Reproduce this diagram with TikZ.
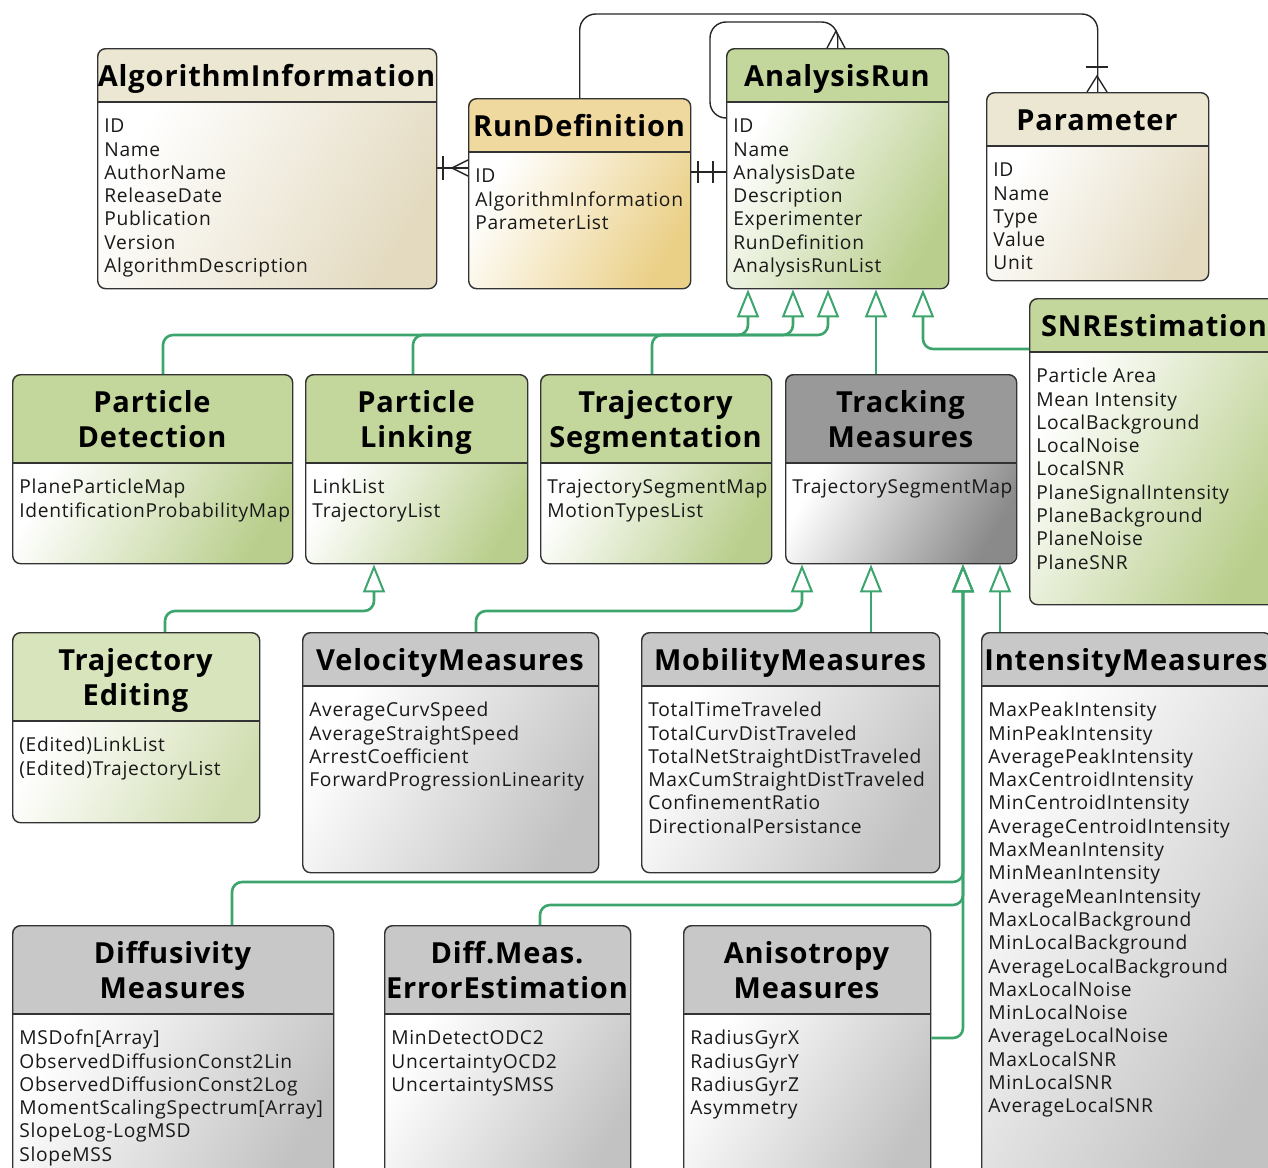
\documentclass[tikz,border=0pt]{standalone}
\usepackage{fontspec}
\setmainfont{Open Sans}
\usetikzlibrary{arrows.meta}

\definecolor{beigeT}{HTML}{ECE7D3}
\definecolor{beigeB}{HTML}{E3DAC0}
\definecolor{goldT}{HTML}{EFD99E}
\definecolor{goldB}{HTML}{EACF86}
\definecolor{greenT}{HTML}{C3D69B}
\definecolor{greenB}{HTML}{B9CE8C}
\definecolor{lgreenT}{HTML}{D8E4BC}
\definecolor{lgreenB}{HTML}{D0DDB0}
\definecolor{dgrayT}{HTML}{999999}
\definecolor{dgrayB}{HTML}{8A8A8A}
\definecolor{grayT}{HTML}{C8C8C8}
\definecolor{grayB}{HTML}{C2C2C2}
\definecolor{inhgreen}{RGB}{60,165,110}

% name, x, y, width, height, title band, colour, title, items
\newcommand{\umlclass}[9]{%
  \begin{scope}
    \clip[rounded corners=4pt] (#2,#3) rectangle ++(#4,#5);
    \fill[#7T] (#2,#3) rectangle ++(#4,#6);
    \shade[left color=white, right color=#7B, shading angle=60] (#2,#3+#6) rectangle ++(#4,#5-#6);
  \end{scope}
  \draw[black!80, line width=0.7pt] (#2,#3+#6) -- ++(#4,0);
  \node[clsbox, minimum width=#4*0.5pt, minimum height=#5*0.5pt] (#1) at (#2,#3) {};
  \node[clstitle] at (#2+#4/2,#3+13.5) {\strut #8};
  \node[clsitems] at (#2+7,#3+#6+14) {\strut #9};
}

\begin{document}
\begin{tikzpicture}[x=0.5pt, y=-0.5pt,
  clsbox/.style = {draw=black!80, line width=0.7pt, rounded corners=4pt, inner sep=0pt, anchor=north west},
  clstitle/.style = {font=\fontsize{14.5}{17.5}\selectfont\bfseries\addfontfeature{LetterSpace=3}, align=center, inner sep=0pt, anchor=north},
  clsitems/.style = {font=\fontsize{9.6}{11.65}\selectfont\addfontfeature{LetterSpace=3.5}, align=left, inner sep=0pt, anchor=north west, text=black!90},
  rel/.style = {draw=black!85, line width=0.7pt},
  inh/.style = {draw=inhgreen, line width=1.3pt, rounded corners=5pt, -{Triangle[open, length=14pt, width=11pt, line width=1pt]}}]
\useasboundingbox (0,0) rectangle (1268,1167);
\clip (0,0) rectangle (1268,1167);
\fill[white] (0,0) rectangle (1268,1167);

\umlclass{ai}{97}{48}{339}{240}{54}{beige}{AlgorithmInformation}{ID\\Name\\AuthorName\\ReleaseDate\\Publication\\Version\\AlgorithmDescription}
\umlclass{rd}{468}{98}{222}{190}{54}{gold}{RunDefinition}{ID\\AlgorithmInformation\\ParameterList}
\umlclass{ar}{726}{48}{222}{240}{54}{green}{AnalysisRun}{ID\\Name\\AnalysisDate\\Description\\Experimenter\\RunDefinition\\AnalysisRunList}
\umlclass{par}{986}{92}{222}{188}{54}{beige}{Parameter}{ID\\Name\\Type\\Value\\Unit}
\umlclass{snr}{1029}{298}{250}{306}{54}{green}{SNREstimation}{Particle Area\\Mean Intensity\\LocalBackground\\LocalNoise\\LocalSNR\\PlaneSignalIntensity\\PlaneBackground\\PlaneNoise\\PlaneSNR}
\umlclass{pd}{12}{374}{280}{189}{89}{green}{Particle\\Detection}{PlaneParticleMap\\IdentificationProbabilityMap}
\umlclass{pl}{305}{374}{222}{189}{89}{green}{Particle\\Linking}{LinkList\\TrajectoryList}
\umlclass{ts}{540}{374}{231}{189}{89}{green}{Trajectory\\Segmentation}{TrajectorySegmentMap\\MotionTypesList}
\umlclass{tm}{785}{374}{231}{189}{89}{dgray}{Tracking\\Measures}{TrajectorySegmentMap}
\umlclass{te}{12}{632}{247}{190}{89}{lgreen}{Trajectory\\Editing}{(Edited)LinkList\\(Edited)TrajectoryList}
\umlclass{vm}{302}{632}{296}{240}{54}{gray}{VelocityMeasures}{AverageCurvSpeed\\AverageStraightSpeed\\ArrestCoefficient\\ForwardProgressionLinearity}
\umlclass{mm}{641}{632}{298}{240}{54}{gray}{MobilityMeasures}{TotalTimeTraveled\\TotalCurvDistTraveled\\TotalNetStraightDistTraveled\\MaxCumStraightDistTraveled\\ConfinementRatio\\DirectionalPersistance}
\umlclass{im}{981}{632}{290}{560}{54}{gray}{IntensityMeasures}{MaxPeakIntensity\\MinPeakIntensity\\AveragePeakIntensity\\MaxCentroidIntensity\\MinCentroidIntensity\\AverageCentroidIntensity\\MaxMeanIntensity\\MinMeanIntensity\\AverageMeanIntensity\\MaxLocalBackground\\MinLocalBackground\\AverageLocalBackground\\MaxLocalNoise\\MinLocalNoise\\AverageLocalNoise\\MaxLocalSNR\\MinLocalSNR\\AverageLocalSNR}
\umlclass{dm}{12}{925}{321}{260}{89}{gray}{Diffusivity\\Measures}{MSDofn[Array]\\ObservedDiffusionConst2Lin\\ObservedDiffusionConst2Log\\MomentScalingSpectrum[Array]\\SlopeLog-LogMSD\\SlopeMSS}
\umlclass{ee}{384}{925}{246}{260}{89}{gray}{Diff.Meas.\\ErrorEstimation}{MinDetectODC2\\UncertaintyOCD2\\UncertaintySMSS}
\umlclass{an}{683}{925}{247}{260}{89}{gray}{Anisotropy\\Measures}{RadiusGyrX\\RadiusGyrY\\RadiusGyrZ\\Asymmetry}

\draw[rel] (ai.east |- 0,168) -- (rd.west |- 0,168);
\draw[rel] (443,156) -- (443,180);
\draw[rel] (468,160) -- (452,168) -- (468,176);
\draw[rel] (rd.east |- 0,172) -- (ar.west |- 0,172);
\draw[rel] (698,161) -- (698,183);
\draw[rel] (713,161) -- (713,183);
\draw[rel, rounded corners=8pt] (rd.north) -- (rd.north |- 0,14) -- (par.north |- 0,14) -- (par.north);
\draw[rel] (1086,67) -- (1108,67);
\draw[rel] (1087,92) -- (1097,76) -- (1107,92);
\draw[rel, rounded corners=8pt] (ar.west |- 0,118) -- (710,118) -- (710,22) -- (ar.north |- 0,22) -- (ar.north);
\draw[rel] (827,48) -- (836,31) -- (845,48);

\draw[inh] (pd.north -| 163,0) |- (748,335) -- (ar.south -| 748,0);
\draw[inh] (pl.north -| 413,0) |- (793,335) -- (ar.south -| 793,0);
\draw[inh] (ts.north -| 652,0) |- (828,335) -- (ar.south -| 828,0);
\draw[inh] (tm.north -| 876,0) -- (ar.south -| 876,0);
\draw[inh] (snr.west |- 0,349) -| (ar.south -| 923,0);
\draw[inh] (te.north -| 165,0) |- (374,611) -- (pl.south -| 374,0);
\draw[inh] (vm.north -| 476,0) |- (802,611) -- (tm.south -| 802,0);
\draw[inh] (mm.north -| 871,0) -- (tm.south -| 871,0);
\draw[inh] (dm.north -| 232,0) |- (963,882) -- (tm.south -| 963,0);
\draw[inh] (ee.north -| 540,0) |- (963,905) -- (tm.south -| 963,0);
\draw[inh] (an.east |- 0,1038) -| (tm.south -| 963,0);
\draw[inh] (im.north -| 1000,0) -- (tm.south -| 1000,0);
\end{tikzpicture}
\end{document}
